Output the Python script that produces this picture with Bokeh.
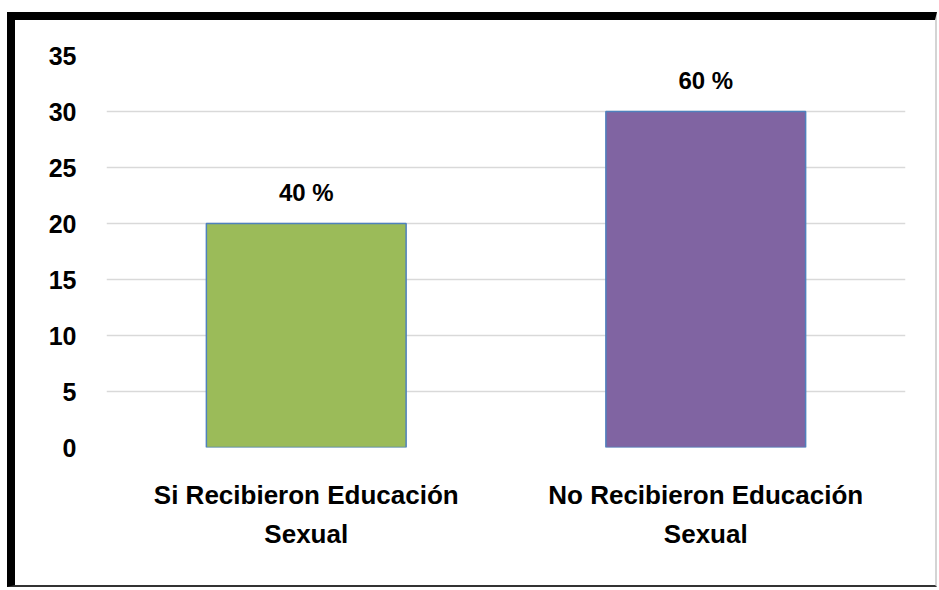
from bokeh.plotting import figure
from bokeh.models import ColumnDataSource, FixedTicker
from bokeh.core.properties import value
from bokeh.embed import file_html
from bokeh.resources import INLINE

categories = ["Si Recibieron Educación\nSexual", "No Recibieron Educación\nSexual"]
counts = [20, 30]
pct_labels = ["40 %", "60 %"]
bar_colors = ["#9BBB59", "#8064A2"]
y_ticks = [0, 5, 10, 15, 20, 25, 30, 35]

src = ColumnDataSource(dict(cat=categories, val=counts, lab=pct_labels, col=bar_colors))

FONT = "Liberation Sans"

p = figure(x_range=categories, y_range=(0, 35), width=930, height=575,
           output_backend="svg", toolbar_location=None,
           min_border_left=91, min_border_right=40, min_border_top=35, min_border_bottom=148)
p.styles = {"margin-left": "7px", "margin-top": "12px",
            "border-left": "8px solid black", "border-top": "8px solid black",
            "border-right": "2px solid #d4d4d4", "border-bottom": "2px solid #333333"}
p.outline_line_color = None
p.background_fill_color = "white"
p.border_fill_color = "white"

p.vbar(x="cat", top="val", width=0.5, source=src, fill_color="col",
       line_color="#4F81BD", line_width=1.5)

p.text(x="cat", y="val", text="lab", source=src, text_align="center",
       text_baseline="bottom", y_offset=-18, text_font=value(FONT),
       text_font_size="24px", text_font_style="bold", text_color="black")

p.xgrid.grid_line_color = None
p.ygrid.grid_line_color = "#d9d9d9"
p.ygrid.grid_line_width = 1.5
p.yaxis.ticker = FixedTicker(ticks=y_ticks)

for ax in (p.xaxis, p.yaxis):
    ax.axis_line_color = None
    ax.major_tick_line_color = None
    ax.minor_tick_line_color = None
    ax.major_label_text_font = FONT
    ax.major_label_text_font_style = "bold"
    ax.major_label_text_color = "black"

p.yaxis.major_label_text_font_size = "25px"
p.xaxis.major_label_text_font_size = "26px"
p.yaxis.major_label_standoff = 24
p.xaxis.major_label_standoff = 26
p.xaxis.major_label_text_line_height = 1.3

open("out.html", "w").write(file_html(p, INLINE))
